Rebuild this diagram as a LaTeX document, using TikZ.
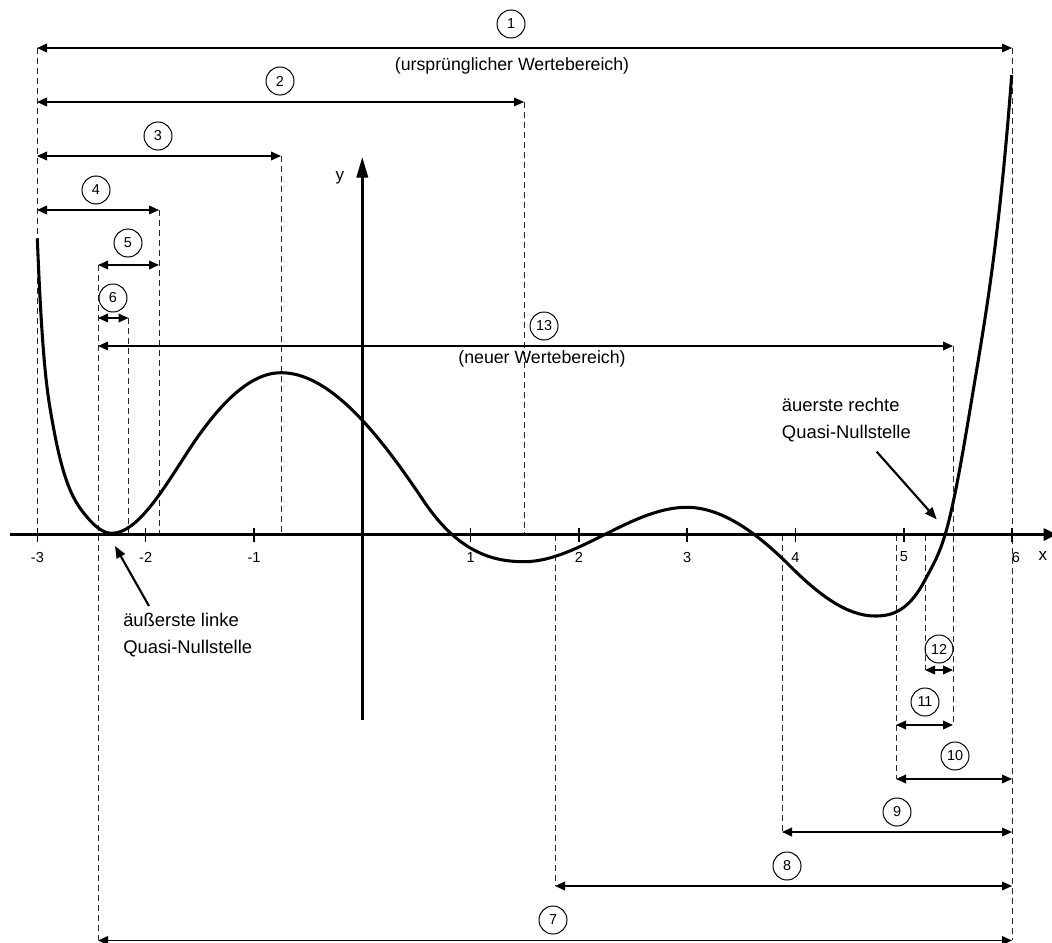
\documentclass[tikz,border=0pt]{standalone}
\usepackage{fontspec}
\setmainfont{Liberation Sans}
\usetikzlibrary{arrows.meta}
\begin{document}
\begin{tikzpicture}[x=0.75pt,y=-0.75pt,
  dimline/.style={line width=1.1pt,{Triangle[length=7.5pt,width=6.5pt]}-{Triangle[length=7.5pt,width=6.5pt]}},
  guide/.style={line width=0.7pt,draw=black!85,dash pattern=on 4.5pt off 3pt},
  num/.style={circle,draw,line width=0.75pt,minimum size=21pt,inner sep=0pt,font=\fontsize{10.8}{12}\selectfont},
  xaxis/.style={line width=2pt,-{Triangle[length=10pt,width=9pt]}},
  yaxis/.style={line width=2pt,-{Triangle[length=15.5pt,width=8.5pt]}},
  curve/.style={line width=2.3pt,line join=round},
  pointer/.style={line width=1.6pt,-{Triangle[length=9pt,width=7pt]}},
  note/.style={font=\fontsize{13.8}{20}\selectfont,align=left,anchor=west,inner sep=0pt},
  rangetext/.style={font=\fontsize{13.3}{16}\selectfont,inner sep=0pt},
  ticklabel/.style={font=\fontsize{10.9}{12}\selectfont,inner sep=0pt},
  axislabel/.style={font=\fontsize{12.8}{14}\selectfont,inner sep=0pt},
]
\useasboundingbox (0,0) rectangle (1052,942);

% dashed guide lines marking the interval bounds
\foreach \x/\ya/\yb in {37/48/534.5, 98/265/940, 128.5/318/534.5, 159/210/534.5,
  281/156/534.5, 524/102/534.5, 555/534.5/886, 782/534.5/832, 896/534.5/779,
  925/534.5/670, 953/346/725, 1012/48/940}
  \draw[guide] (\x,\ya) -- (\x,\yb);

% the function graph, piecewise cubic through extrema and turning points
\draw[curve] (37.3,238.3)
  .. controls (42.63,371.6) and (47.97,397.4) .. (53.3,426.7)
  .. controls (64.43,487.93) and (75.57,503.34) .. (86.7,516.7)
  .. controls (95.03,526.7) and (103.37,533.3) .. (111.7,533.3)
  .. controls (136.7,533.3) and (161.7,492.05) .. (186.7,453.3)
  .. controls (218.13,404.58) and (249.57,372.7) .. (281,372.7)
  .. controls (328.33,372.7) and (375.67,429) .. (423,500)
  .. controls (456.67,550.5) and (490.33,561.7) .. (524,561.7)
  .. controls (552.1,561.7) and (580.2,546.75) .. (608.3,532.7)
  .. controls (634.43,519.63) and (660.57,507.3) .. (686.7,507.3)
  .. controls (721.13,507.3) and (755.57,531.57) .. (790,566)
  .. controls (818.33,594.33) and (846.67,616) .. (875,616)
  .. controls (891.67,616) and (908.33,611.67) .. (925,580)
  .. controls (931.67,567.33) and (938.33,557) .. (945,535)
  .. controls (954.43,503.87) and (963.87,446.6) .. (973.3,390)
  .. controls (986.1,313.2) and (998.9,241.4) .. (1011.7,75);

% axes
\coordinate (xs) at (10,534.5);
\coordinate (xe) at (1057,534.5);
\coordinate (ys) at (362.3,720);
\coordinate (ye) at (362.3,157);
\draw[xaxis] (xs) -- (xe);
\draw[yaxis] (ys) -- (ye);
\foreach \u in {-3,-2,-1,1,2,3,4,5,6}
  \draw[line width=1.1pt] (362.3+108.3*\u,527.5) -- (362.3+108.3*\u,541.5);
\foreach \u/\k in {-3/a,-2/b,-1/c,1/d,2/e,3/f,4/g,5/h}
  \node[ticklabel] (tick\k) at (362.3+108.3*\u,557) {\u};
\node[ticklabel] (ticki) at (1016,557) {6};
\node[axislabel] (ylab) at (340,178) {y};
\node[axislabel] (xlab) at (1043,556) {x};

% numbered interval arrows
\foreach \n/\xa/\xb/\y/\cx/\cy in {
  1/37/1012/48/511/24,
  2/37/524/102/280/81,
  3/37/281/156/158/136,
  4/37/159/210/96/190,
  5/98/159/265/128/243,
  6/98/128.5/318/113/298,
  13/98/953/346/544/326,
  12/925/953/670/939/649,
  11/896/953/725/925/702,
  10/896/1012/779/955/756,
  9/782/1012/832/897/812,
  8/555/1012/886/787/866,
  7/98/1012/940.5/553/920}
{
  \coordinate (L\n) at (\xa,\y);
  \coordinate (R\n) at (\xb,\y);
  \draw[dimline] (L\n) -- (R\n);
  \node[num] (c\n) at (\cx,\cy) {\n};
}

\node[rangetext] (oldrange) at (512,66) {(ursprünglicher Wertebereich)};
\node[rangetext] (newrange) at (542,359) {(neuer Wertebereich)};

% annotations of the outermost quasi-zeros
\node[note] (leftnote) at (123,635) {äußerste linke\\Quasi-Nullstelle};
\node[note] (rightnote) at (781.7,420) {äuerste rechte\\Quasi-Nullstelle};
\coordinate (lptail) at (149,606);
\coordinate (lroot) at (115,546);
\coordinate (rptail) at (876.7,451.7);
\coordinate (rroot) at (936.7,519.3);
\draw[pointer] (lptail) -- (lroot);
\draw[pointer] (rptail) -- (rroot);
\end{tikzpicture}
\end{document}
